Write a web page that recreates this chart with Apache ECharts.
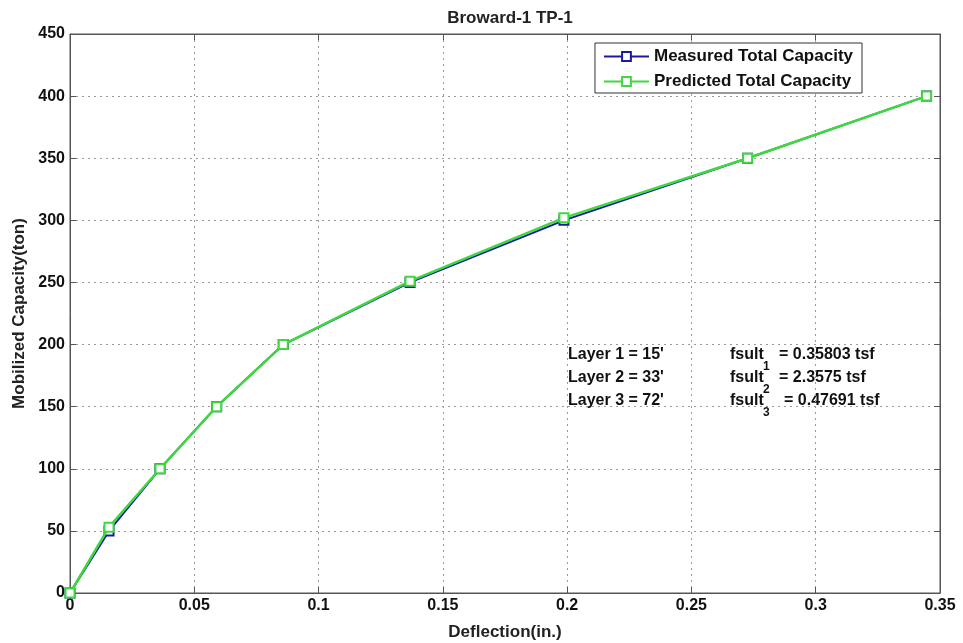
<!DOCTYPE html>
<html>
<head>
<meta charset="utf-8">
<script src="https://cdn.jsdelivr.net/npm/echarts@6/dist/echarts.min.js"></script>
<style>html,body{margin:0;padding:0;background:#fff}#c{width:963px;height:643px}</style>
</head>
<body>
<div id="c"></div>
<script>
var measuredX = [0, 0.0157, 0.0362, 0.0590, 0.0858, 0.1368, 0.1987, 0.2726, 0.3446];
var measuredY = [0, 50, 100, 150, 200, 250, 300, 350, 400];
var predictedX = [0, 0.0157, 0.0362, 0.0590, 0.0858, 0.1368, 0.1987, 0.2726, 0.3446];
var predictedY = [0, 53, 100, 150, 200, 251, 302, 350, 400];
var xTickLabels = ['0', '0.05', '0.1', '0.15', '0.2', '0.25', '0.3', '0.35'];
var yTickLabels = ['0', '50', '100', '150', '200', '250', '300', '350', '400', '450'];
var layerLines = ["Layer 1 = 15'", "Layer 2 = 33'", "Layer 3 = 72'"];
var fsultValues = ['= 0.35803 tsf', '= 2.3575 tsf', '= 0.47691 tsf'];

function pairs(xs, ys) { return xs.map(function (x, i) { return [x, ys[i]]; }); }

var FONT = '"Liberation Sans", Arial, sans-serif';
var chart = echarts.init(document.getElementById('c'));

var graphics = [];
layerLines.forEach(function (t, i) {
  graphics.push({ type: 'text', left: 568, top: 347 + i * 23,
    style: { text: t, font: 'bold 16px ' + FONT, fill: '#111' } });
});
fsultValues.forEach(function (t, i) {
  graphics.push({ type: 'text', left: 730, top: 347 + i * 23,
    style: { text: 'fsult', font: 'bold 16px ' + FONT, fill: '#111' } });
  graphics.push({ type: 'text', left: 763, top: 361 + i * 23,
    style: { text: String(i + 1), font: 'bold 12px ' + FONT, fill: '#111' } });
  graphics.push({ type: 'text', left: 779 + (i === 2 ? 5 : 0), top: 347 + i * 23,
    style: { text: t, font: 'bold 16px ' + FONT, fill: '#111' } });
});

var axisLineStyle = { color: '#555', width: 1 };
chart.setOption({
  animation: false,
  backgroundColor: '#fff',
  title: {
    text: 'Broward-1 TP-1', left: 505, textAlign: 'center', top: 5,
    textStyle: { fontFamily: FONT, fontSize: 17, fontWeight: 'bold', color: '#222' }
  },
  grid: { left: 70, right: 23, top: 34, bottom: 50, show: true, borderColor: '#555', borderWidth: 1,
    containLabel: false, outerBoundsMode: 'none' },
  legend: {
    right: 101, top: 43, orient: 'vertical', itemGap: 8,
    padding: [5, 9, 3, 8],
    borderColor: '#333', borderWidth: 1, backgroundColor: '#fff',
    itemWidth: 45, itemHeight: 11,
    textStyle: { fontFamily: FONT, fontSize: 17, fontWeight: 'bold', color: '#111' },
    data: ['Measured Total Capacity', 'Predicted Total Capacity']
  },
  xAxis: [{
    type: 'value', min: 0, max: 0.35, interval: 0.05,
    name: 'Deflection(in.)', nameLocation: 'middle', nameGap: 31,
    nameTextStyle: { fontFamily: FONT, fontSize: 17, fontWeight: 'bold', color: '#222' },
    axisLine: { show: true, onZero: false, lineStyle: axisLineStyle },
    axisTick: { show: true, inside: true, length: 6, lineStyle: axisLineStyle },
    axisLabel: { margin: 5, fontFamily: FONT, fontSize: 16, fontWeight: 'bold', color: '#111',
      formatter: function (v) { return xTickLabels[Math.round(v / 0.05)]; } },
    splitLine: { show: true, lineStyle: { color: '#999', type: [2, 4], width: 1 } }
  }, {
    type: 'value', min: 0, max: 0.35, interval: 0.05, position: 'top',
    axisLine: { show: true, onZero: false, lineStyle: axisLineStyle },
    axisTick: { show: true, inside: true, length: 6, lineStyle: axisLineStyle },
    axisLabel: { show: false }, splitLine: { show: false }
  }],
  yAxis: [{
    type: 'value', min: 0, max: 450, interval: 50,
    name: 'Mobilized Capacity(ton)', nameLocation: 'middle', nameGap: 41,
    nameTextStyle: { fontFamily: FONT, fontSize: 17, fontWeight: 'bold', color: '#222' },
    axisLine: { show: true, onZero: false, lineStyle: axisLineStyle },
    axisTick: { show: true, inside: true, length: 6, lineStyle: axisLineStyle },
    axisLabel: { margin: 5, fontFamily: FONT, fontSize: 16, fontWeight: 'bold', color: '#111',
      formatter: function (v) { return yTickLabels[Math.round(v / 50)]; } },
    splitLine: { show: true, lineStyle: { color: '#999', type: [2, 4], width: 1 } }
  }, {
    type: 'value', min: 0, max: 450, interval: 50, position: 'right',
    axisLine: { show: true, onZero: false, lineStyle: axisLineStyle },
    axisTick: { show: true, inside: true, length: 6, lineStyle: axisLineStyle },
    axisLabel: { show: false }, splitLine: { show: false }
  }],
  series: [{
    name: 'Measured Total Capacity', type: 'line',
    data: pairs(measuredX, measuredY),
    symbol: 'emptyRect', symbolSize: 9,
    lineStyle: { color: '#1a1aa0', width: 2 },
    itemStyle: { color: '#1a1aa0', borderColor: '#1a1aa0', borderWidth: 1.5 },
    z: 2
  }, {
    name: 'Predicted Total Capacity', type: 'line',
    data: pairs(predictedX, predictedY),
    symbol: 'emptyRect', symbolSize: 9,
    lineStyle: { color: '#3fd83f', width: 2.5 },
    itemStyle: { color: '#3fd83f', borderColor: '#30c830', borderWidth: 1.5 },
    z: 3
  }],
  graphic: graphics
});
</script>
</body>
</html>
